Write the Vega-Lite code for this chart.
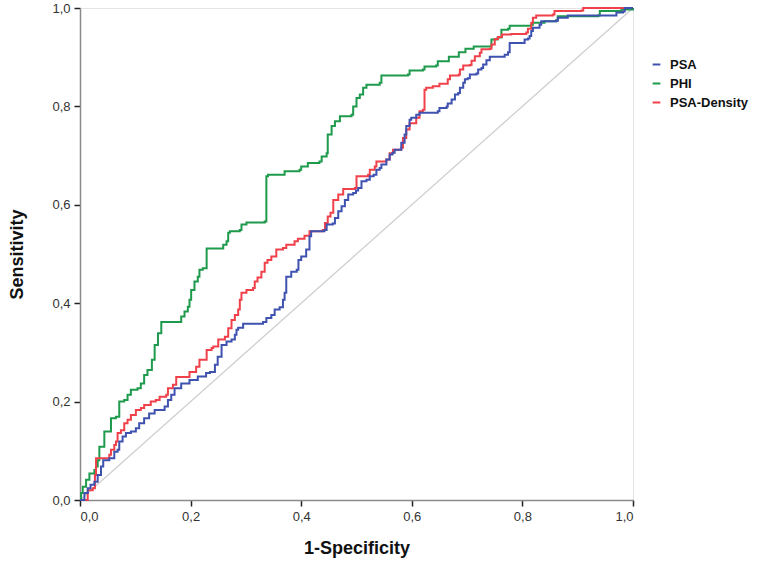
{
  "$schema": "https://vega.github.io/schema/vega-lite/v6.json",
  "width": 553,
  "height": 492,
  "autosize": {"type": "none"},
  "padding": {"left": 80, "top": 8, "right": 135, "bottom": 66},
  "background": "white",
  "config": {
    "view": {"stroke": "#e4e4e4", "strokeWidth": 1},
    "font": "Liberation Sans",
    "axis": {
      "grid": false,
      "domainColor": "#8a8a8a",
      "domainWidth": 1.5,
      "tickColor": "#222222",
      "tickWidth": 1.5,
      "tickSize": 6,
      "labelColor": "#333333",
      "labelFont": "Liberation Sans Narrow, Liberation Sans, Arial",
      "labelFontSize": 13,
      "labelPadding": 4,
      "titleFont": "Liberation Sans Narrow, Liberation Sans, Arial",
      "titleFontSize": 18,
      "titleFontWeight": "bold",
      "titleColor": "#111111"
    }
  },
  "datasets": {
    "diag": [{"x": 0, "y": 0}, {"x": 1, "y": 1}],
    "roc": [
      {"s":"PHI","x":0,"y":0},{"s":"PHI","x":0.002,"y":0.014},{"s":"PHI","x":0.005,"y":0.027},{"s":"PHI","x":0.011,"y":0.041},{"s":"PHI","x":0.017,"y":0.054},{"s":"PHI","x":0.026,"y":0.061},{"s":"PHI","x":0.029,"y":0.068},{"s":"PHI","x":0.032,"y":0.081},{"s":"PHI","x":0.035,"y":0.108},{"s":"PHI","x":0.044,"y":0.139},{"s":"PHI","x":0.056,"y":0.166},{"s":"PHI","x":0.065,"y":0.169},{"s":"PHI","x":0.071,"y":0.2},{"s":"PHI","x":0.08,"y":0.203},{"s":"PHI","x":0.086,"y":0.214},{"s":"PHI","x":0.092,"y":0.224},{"s":"PHI","x":0.104,"y":0.227},{"s":"PHI","x":0.11,"y":0.237},{"s":"PHI","x":0.116,"y":0.254},{"s":"PHI","x":0.122,"y":0.264},{"s":"PHI","x":0.13,"y":0.285},{"s":"PHI","x":0.135,"y":0.315},{"s":"PHI","x":0.141,"y":0.339},{"s":"PHI","x":0.147,"y":0.362},{"s":"PHI","x":0.177,"y":0.362},{"s":"PHI","x":0.183,"y":0.373},{"s":"PHI","x":0.189,"y":0.383},{"s":"PHI","x":0.195,"y":0.393},{"s":"PHI","x":0.198,"y":0.407},{"s":"PHI","x":0.201,"y":0.427},{"s":"PHI","x":0.207,"y":0.444},{"s":"PHI","x":0.213,"y":0.454},{"s":"PHI","x":0.216,"y":0.468},{"s":"PHI","x":0.222,"y":0.471},{"s":"PHI","x":0.229,"y":0.511},{"s":"PHI","x":0.256,"y":0.511},{"s":"PHI","x":0.259,"y":0.519},{"s":"PHI","x":0.265,"y":0.526},{"s":"PHI","x":0.268,"y":0.543},{"s":"PHI","x":0.271,"y":0.546},{"s":"PHI","x":0.289,"y":0.549},{"s":"PHI","x":0.292,"y":0.56},{"s":"PHI","x":0.301,"y":0.564},{"s":"PHI","x":0.334,"y":0.566},{"s":"PHI","x":0.337,"y":0.658},{"s":"PHI","x":0.34,"y":0.661},{"s":"PHI","x":0.367,"y":0.661},{"s":"PHI","x":0.37,"y":0.668},{"s":"PHI","x":0.397,"y":0.671},{"s":"PHI","x":0.4,"y":0.678},{"s":"PHI","x":0.412,"y":0.685},{"s":"PHI","x":0.433,"y":0.688},{"s":"PHI","x":0.437,"y":0.698},{"s":"PHI","x":0.446,"y":0.705},{"s":"PHI","x":0.448,"y":0.743},{"s":"PHI","x":0.455,"y":0.76},{"s":"PHI","x":0.461,"y":0.77},{"s":"PHI","x":0.47,"y":0.78},{"s":"PHI","x":0.491,"y":0.783},{"s":"PHI","x":0.494,"y":0.8},{"s":"PHI","x":0.5,"y":0.817},{"s":"PHI","x":0.506,"y":0.824},{"s":"PHI","x":0.512,"y":0.838},{"s":"PHI","x":0.518,"y":0.844},{"s":"PHI","x":0.542,"y":0.848},{"s":"PHI","x":0.545,"y":0.863},{"s":"PHI","x":0.593,"y":0.865},{"s":"PHI","x":0.596,"y":0.873},{"s":"PHI","x":0.62,"y":0.875},{"s":"PHI","x":0.623,"y":0.881},{"s":"PHI","x":0.644,"y":0.883},{"s":"PHI","x":0.647,"y":0.892},{"s":"PHI","x":0.665,"y":0.892},{"s":"PHI","x":0.667,"y":0.901},{"s":"PHI","x":0.683,"y":0.901},{"s":"PHI","x":0.685,"y":0.91},{"s":"PHI","x":0.696,"y":0.91},{"s":"PHI","x":0.697,"y":0.917},{"s":"PHI","x":0.71,"y":0.917},{"s":"PHI","x":0.712,"y":0.922},{"s":"PHI","x":0.741,"y":0.922},{"s":"PHI","x":0.744,"y":0.936},{"s":"PHI","x":0.755,"y":0.94},{"s":"PHI","x":0.762,"y":0.956},{"s":"PHI","x":0.774,"y":0.958},{"s":"PHI","x":0.777,"y":0.964},{"s":"PHI","x":0.816,"y":0.966},{"s":"PHI","x":0.819,"y":0.97},{"s":"PHI","x":0.84,"y":0.973},{"s":"PHI","x":0.861,"y":0.975},{"s":"PHI","x":0.864,"y":0.983},{"s":"PHI","x":0.937,"y":0.985},{"s":"PHI","x":0.94,"y":0.994},{"s":"PHI","x":0.976,"y":0.994},{"s":"PHI","x":0.979,"y":0.997},{"s":"PHI","x":1,"y":1},
      {"s":"PSA-Density","x":0,"y":0},{"s":"PSA-Density","x":0.013,"y":0},{"s":"PSA-Density","x":0.014,"y":0.02},{"s":"PSA-Density","x":0.023,"y":0.024},{"s":"PSA-Density","x":0.027,"y":0.051},{"s":"PSA-Density","x":0.029,"y":0.085},{"s":"PSA-Density","x":0.05,"y":0.085},{"s":"PSA-Density","x":0.053,"y":0.092},{"s":"PSA-Density","x":0.056,"y":0.102},{"s":"PSA-Density","x":0.062,"y":0.112},{"s":"PSA-Density","x":0.065,"y":0.119},{"s":"PSA-Density","x":0.068,"y":0.136},{"s":"PSA-Density","x":0.074,"y":0.142},{"s":"PSA-Density","x":0.08,"y":0.156},{"s":"PSA-Density","x":0.086,"y":0.163},{"s":"PSA-Density","x":0.092,"y":0.173},{"s":"PSA-Density","x":0.101,"y":0.183},{"s":"PSA-Density","x":0.11,"y":0.187},{"s":"PSA-Density","x":0.116,"y":0.193},{"s":"PSA-Density","x":0.128,"y":0.2},{"s":"PSA-Density","x":0.137,"y":0.203},{"s":"PSA-Density","x":0.144,"y":0.21},{"s":"PSA-Density","x":0.156,"y":0.214},{"s":"PSA-Density","x":0.159,"y":0.227},{"s":"PSA-Density","x":0.168,"y":0.234},{"s":"PSA-Density","x":0.174,"y":0.25},{"s":"PSA-Density","x":0.195,"y":0.25},{"s":"PSA-Density","x":0.198,"y":0.26},{"s":"PSA-Density","x":0.21,"y":0.271},{"s":"PSA-Density","x":0.216,"y":0.285},{"s":"PSA-Density","x":0.229,"y":0.305},{"s":"PSA-Density","x":0.238,"y":0.309},{"s":"PSA-Density","x":0.241,"y":0.312},{"s":"PSA-Density","x":0.25,"y":0.326},{"s":"PSA-Density","x":0.262,"y":0.332},{"s":"PSA-Density","x":0.268,"y":0.349},{"s":"PSA-Density","x":0.274,"y":0.366},{"s":"PSA-Density","x":0.28,"y":0.376},{"s":"PSA-Density","x":0.286,"y":0.387},{"s":"PSA-Density","x":0.289,"y":0.407},{"s":"PSA-Density","x":0.292,"y":0.421},{"s":"PSA-Density","x":0.301,"y":0.427},{"s":"PSA-Density","x":0.313,"y":0.431},{"s":"PSA-Density","x":0.316,"y":0.444},{"s":"PSA-Density","x":0.321,"y":0.452},{"s":"PSA-Density","x":0.328,"y":0.464},{"s":"PSA-Density","x":0.334,"y":0.482},{"s":"PSA-Density","x":0.339,"y":0.488},{"s":"PSA-Density","x":0.346,"y":0.495},{"s":"PSA-Density","x":0.355,"y":0.509},{"s":"PSA-Density","x":0.367,"y":0.512},{"s":"PSA-Density","x":0.373,"y":0.519},{"s":"PSA-Density","x":0.388,"y":0.526},{"s":"PSA-Density","x":0.394,"y":0.531},{"s":"PSA-Density","x":0.406,"y":0.537},{"s":"PSA-Density","x":0.415,"y":0.546},{"s":"PSA-Density","x":0.439,"y":0.549},{"s":"PSA-Density","x":0.443,"y":0.563},{"s":"PSA-Density","x":0.448,"y":0.576},{"s":"PSA-Density","x":0.453,"y":0.584},{"s":"PSA-Density","x":0.458,"y":0.61},{"s":"PSA-Density","x":0.467,"y":0.621},{"s":"PSA-Density","x":0.476,"y":0.632},{"s":"PSA-Density","x":0.497,"y":0.634},{"s":"PSA-Density","x":0.5,"y":0.658},{"s":"PSA-Density","x":0.521,"y":0.661},{"s":"PSA-Density","x":0.524,"y":0.671},{"s":"PSA-Density","x":0.533,"y":0.678},{"s":"PSA-Density","x":0.536,"y":0.688},{"s":"PSA-Density","x":0.554,"y":0.692},{"s":"PSA-Density","x":0.56,"y":0.705},{"s":"PSA-Density","x":0.566,"y":0.712},{"s":"PSA-Density","x":0.581,"y":0.716},{"s":"PSA-Density","x":0.584,"y":0.736},{"s":"PSA-Density","x":0.59,"y":0.753},{"s":"PSA-Density","x":0.596,"y":0.766},{"s":"PSA-Density","x":0.608,"y":0.777},{"s":"PSA-Density","x":0.614,"y":0.79},{"s":"PSA-Density","x":0.62,"y":0.793},{"s":"PSA-Density","x":0.623,"y":0.834},{"s":"PSA-Density","x":0.626,"y":0.838},{"s":"PSA-Density","x":0.638,"y":0.841},{"s":"PSA-Density","x":0.65,"y":0.846},{"s":"PSA-Density","x":0.665,"y":0.855},{"s":"PSA-Density","x":0.669,"y":0.863},{"s":"PSA-Density","x":0.685,"y":0.865},{"s":"PSA-Density","x":0.687,"y":0.875},{"s":"PSA-Density","x":0.693,"y":0.883},{"s":"PSA-Density","x":0.705,"y":0.884},{"s":"PSA-Density","x":0.708,"y":0.893},{"s":"PSA-Density","x":0.714,"y":0.902},{"s":"PSA-Density","x":0.723,"y":0.909},{"s":"PSA-Density","x":0.726,"y":0.916},{"s":"PSA-Density","x":0.741,"y":0.917},{"s":"PSA-Density","x":0.744,"y":0.926},{"s":"PSA-Density","x":0.75,"y":0.937},{"s":"PSA-Density","x":0.756,"y":0.941},{"s":"PSA-Density","x":0.763,"y":0.946},{"s":"PSA-Density","x":0.78,"y":0.947},{"s":"PSA-Density","x":0.807,"y":0.95},{"s":"PSA-Density","x":0.81,"y":0.958},{"s":"PSA-Density","x":0.816,"y":0.97},{"s":"PSA-Density","x":0.819,"y":0.98},{"s":"PSA-Density","x":0.825,"y":0.985},{"s":"PSA-Density","x":0.855,"y":0.987},{"s":"PSA-Density","x":0.858,"y":0.994},{"s":"PSA-Density","x":0.907,"y":0.995},{"s":"PSA-Density","x":0.91,"y":1},{"s":"PSA-Density","x":1,"y":1},
      {"s":"PSA","x":0,"y":0},{"s":"PSA","x":0.008,"y":0.014},{"s":"PSA","x":0.014,"y":0.024},{"s":"PSA","x":0.019,"y":0.031},{"s":"PSA","x":0.026,"y":0.037},{"s":"PSA","x":0.032,"y":0.051},{"s":"PSA","x":0.038,"y":0.068},{"s":"PSA","x":0.042,"y":0.081},{"s":"PSA","x":0.053,"y":0.085},{"s":"PSA","x":0.062,"y":0.098},{"s":"PSA","x":0.068,"y":0.102},{"s":"PSA","x":0.071,"y":0.119},{"s":"PSA","x":0.077,"y":0.129},{"s":"PSA","x":0.083,"y":0.136},{"s":"PSA","x":0.092,"y":0.139},{"s":"PSA","x":0.101,"y":0.146},{"s":"PSA","x":0.107,"y":0.156},{"s":"PSA","x":0.116,"y":0.166},{"s":"PSA","x":0.125,"y":0.176},{"s":"PSA","x":0.135,"y":0.183},{"s":"PSA","x":0.153,"y":0.19},{"s":"PSA","x":0.159,"y":0.203},{"s":"PSA","x":0.165,"y":0.214},{"s":"PSA","x":0.171,"y":0.227},{"s":"PSA","x":0.183,"y":0.237},{"s":"PSA","x":0.198,"y":0.244},{"s":"PSA","x":0.213,"y":0.251},{"s":"PSA","x":0.228,"y":0.258},{"s":"PSA","x":0.235,"y":0.26},{"s":"PSA","x":0.244,"y":0.275},{"s":"PSA","x":0.249,"y":0.291},{"s":"PSA","x":0.256,"y":0.315},{"s":"PSA","x":0.265,"y":0.322},{"s":"PSA","x":0.274,"y":0.326},{"s":"PSA","x":0.28,"y":0.336},{"s":"PSA","x":0.283,"y":0.346},{"s":"PSA","x":0.286,"y":0.35},{"s":"PSA","x":0.295,"y":0.358},{"s":"PSA","x":0.331,"y":0.362},{"s":"PSA","x":0.337,"y":0.37},{"s":"PSA","x":0.346,"y":0.376},{"s":"PSA","x":0.352,"y":0.387},{"s":"PSA","x":0.361,"y":0.392},{"s":"PSA","x":0.367,"y":0.407},{"s":"PSA","x":0.37,"y":0.421},{"s":"PSA","x":0.373,"y":0.454},{"s":"PSA","x":0.382,"y":0.464},{"s":"PSA","x":0.392,"y":0.468},{"s":"PSA","x":0.395,"y":0.488},{"s":"PSA","x":0.4,"y":0.495},{"s":"PSA","x":0.409,"y":0.509},{"s":"PSA","x":0.415,"y":0.536},{"s":"PSA","x":0.418,"y":0.546},{"s":"PSA","x":0.442,"y":0.549},{"s":"PSA","x":0.446,"y":0.56},{"s":"PSA","x":0.457,"y":0.562},{"s":"PSA","x":0.461,"y":0.573},{"s":"PSA","x":0.467,"y":0.587},{"s":"PSA","x":0.473,"y":0.597},{"s":"PSA","x":0.479,"y":0.61},{"s":"PSA","x":0.485,"y":0.621},{"s":"PSA","x":0.494,"y":0.624},{"s":"PSA","x":0.499,"y":0.629},{"s":"PSA","x":0.503,"y":0.634},{"s":"PSA","x":0.509,"y":0.648},{"s":"PSA","x":0.518,"y":0.651},{"s":"PSA","x":0.524,"y":0.658},{"s":"PSA","x":0.531,"y":0.661},{"s":"PSA","x":0.536,"y":0.671},{"s":"PSA","x":0.542,"y":0.675},{"s":"PSA","x":0.545,"y":0.682},{"s":"PSA","x":0.554,"y":0.692},{"s":"PSA","x":0.56,"y":0.702},{"s":"PSA","x":0.565,"y":0.706},{"s":"PSA","x":0.569,"y":0.712},{"s":"PSA","x":0.581,"y":0.726},{"s":"PSA","x":0.587,"y":0.743},{"s":"PSA","x":0.59,"y":0.76},{"s":"PSA","x":0.596,"y":0.773},{"s":"PSA","x":0.599,"y":0.777},{"s":"PSA","x":0.608,"y":0.783},{"s":"PSA","x":0.614,"y":0.787},{"s":"PSA","x":0.647,"y":0.79},{"s":"PSA","x":0.65,"y":0.797},{"s":"PSA","x":0.663,"y":0.8},{"s":"PSA","x":0.665,"y":0.806},{"s":"PSA","x":0.672,"y":0.814},{"s":"PSA","x":0.678,"y":0.824},{"s":"PSA","x":0.684,"y":0.827},{"s":"PSA","x":0.687,"y":0.838},{"s":"PSA","x":0.693,"y":0.848},{"s":"PSA","x":0.696,"y":0.855},{"s":"PSA","x":0.701,"y":0.857},{"s":"PSA","x":0.705,"y":0.865},{"s":"PSA","x":0.717,"y":0.867},{"s":"PSA","x":0.72,"y":0.875},{"s":"PSA","x":0.726,"y":0.878},{"s":"PSA","x":0.729,"y":0.885},{"s":"PSA","x":0.735,"y":0.894},{"s":"PSA","x":0.741,"y":0.901},{"s":"PSA","x":0.762,"y":0.901},{"s":"PSA","x":0.768,"y":0.905},{"s":"PSA","x":0.774,"y":0.91},{"s":"PSA","x":0.777,"y":0.929},{"s":"PSA","x":0.798,"y":0.929},{"s":"PSA","x":0.804,"y":0.936},{"s":"PSA","x":0.81,"y":0.938},{"s":"PSA","x":0.813,"y":0.943},{"s":"PSA","x":0.816,"y":0.953},{"s":"PSA","x":0.819,"y":0.96},{"s":"PSA","x":0.831,"y":0.966},{"s":"PSA","x":0.834,"y":0.973},{"s":"PSA","x":0.861,"y":0.974},{"s":"PSA","x":0.864,"y":0.98},{"s":"PSA","x":0.88,"y":0.98},{"s":"PSA","x":0.882,"y":0.985},{"s":"PSA","x":0.967,"y":0.985},{"s":"PSA","x":0.97,"y":0.991},{"s":"PSA","x":0.982,"y":0.993},{"s":"PSA","x":0.985,"y":1},{"s":"PSA","x":1,"y":1}
    ]
  },
  "layer": [
    {
      "data": {"name": "diag"},
      "mark": {"type": "line", "color": "#cfcfcf", "strokeWidth": 1.3},
      "encoding": {
        "x": {"field": "x", "type": "quantitative"},
        "y": {"field": "y", "type": "quantitative"}
      }
    },
    {
      "data": {"name": "roc"},
      "mark": {"type": "line", "interpolate": "step-after", "strokeWidth": 2},
      "encoding": {
        "x": {
          "field": "x", "type": "quantitative",
          "scale": {"domain": [0, 1], "nice": false},
          "axis": {"values": [0, 0.2, 0.4, 0.6, 0.8, 1], "labelExpr": "replace(format(datum.value, '.1f'), '.', ',')", "title": "1-Specificity", "titlePadding": 16}
        },
        "y": {
          "field": "y", "type": "quantitative",
          "scale": {"domain": [0, 1], "nice": false},
          "axis": {"values": [0, 0.2, 0.4, 0.6, 0.8, 1], "labelExpr": "replace(format(datum.value, '.1f'), '.', ',')", "title": "Sensitivity", "titlePadding": 25}
        },
        "color": {
          "field": "s", "type": "nominal",
          "scale": {"domain": ["PSA", "PHI", "PSA-Density"], "range": ["#3f52b0", "#1e9a4c", "#f0414a"]},
          "legend": {
            "title": null,
            "orient": "none",
            "legendX": 570,
            "legendY": 50,
            "symbolType": "stroke",
            "symbolStrokeWidth": 2,
            "symbolSize": 60,
            "labelFont": "Liberation Sans",
            "labelFontSize": 13,
            "labelFontWeight": "bold",
            "labelColor": "#111111",
            "rowPadding": 5,
            "labelOffset": 7
          }
        }
      }
    }
  ]
}
